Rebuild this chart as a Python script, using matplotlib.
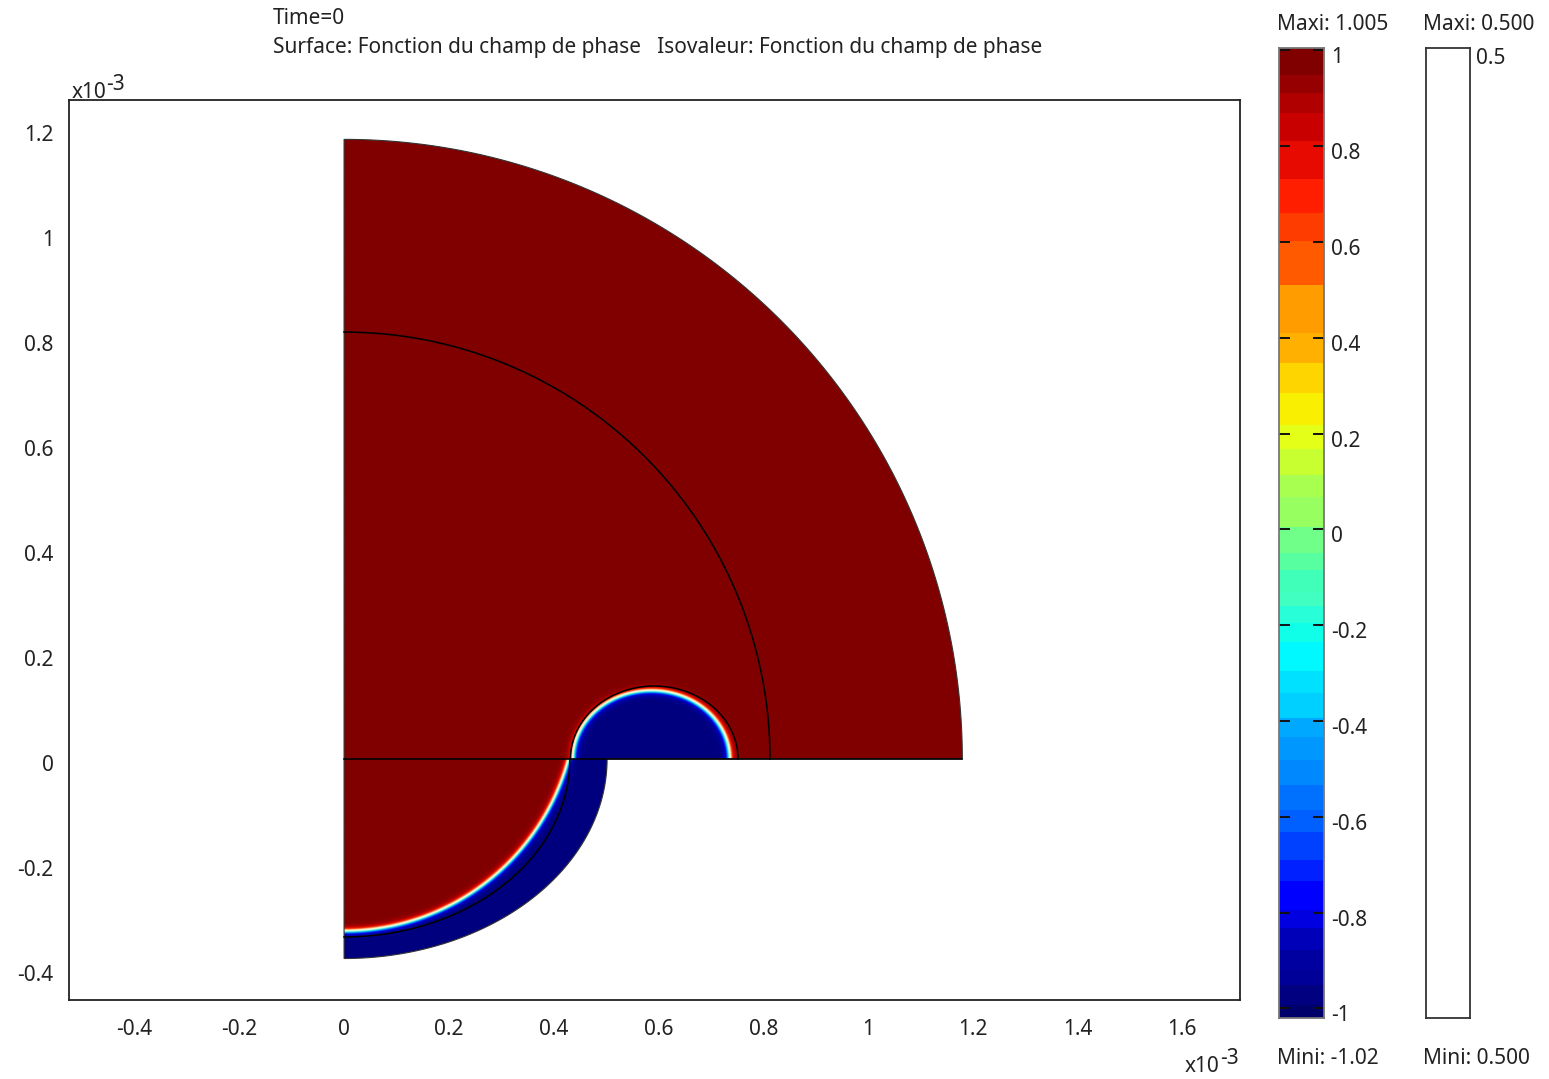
import numpy as np
import matplotlib
matplotlib.use("Agg")
import matplotlib.pyplot as plt
from matplotlib.colors import ListedColormap, BoundaryNorm, LinearSegmentedColormap
from matplotlib.patches import Polygon
from matplotlib.transforms import ScaledTranslation

plt.rcParams['font.family'] = ['Noto Sans', 'DejaVu Sans']

# Geometry (units of 1e-3)
outer_radius = 1.18
middle_radius = 0.813
lower_outer = (0.502, 0.38)
lower_inner = (0.431, 0.339)
lower_interface_center = 0.1166
lower_interface_radius = 0.443
bubble_center = 0.592
bubble_line = (0.160, 0.139)
bubble_interface_center = 0.586
bubble_interface = (0.150, 0.131)
interface_width = 0.007

x_ticks = [-0.4, -0.2, 0, 0.2, 0.4, 0.6, 0.8, 1, 1.2, 1.4, 1.6]
y_ticks = [-0.4, -0.2, 0, 0.2, 0.4, 0.6, 0.8, 1, 1.2]
bar_ticks = [-1, -0.8, -0.6, -0.4, -0.2, 0, 0.2, 0.4, 0.6, 0.8, 1]

band_edges = [-1.02, -.993, -.951, -.920, -.878, -.832, -.795, -.734, -.690, -.632, -.586,
              -.533, -.481, -.433, -.394, -.342, -.296, -.235, -.195, -.160, -.131, -.085,
              -.049, .005, .068, .114, .168, .218, .285, .348, .410, .510, .602, .661,
              .732, .811, .869, .911, .949, 1.005]
band_colors = ['#00006a', '#000080', '#000098', '#0000a0', '#0000b8', '#0000e0', '#0000ff',
               '#0020ff', '#0040ff', '#0060ff', '#0070ff', '#0088ff', '#0098ff', '#00a8ff',
               '#00d0ff', '#00e0ff', '#00f8ff', '#10ffe8', '#28ffd8', '#40ffc0', '#40ffb8',
               '#58ffa0', '#70ff88', '#98ff60', '#a8ff50', '#c8ff30', '#e4ff18', '#f8f000',
               '#ffd500', '#ffb000', '#ff9c00', '#ff5a00', '#ff3c00', '#ff1e00', '#e60a00',
               '#c80000', '#b00000', '#960000', '#800000']
field_stops = ['#00007f', '#0000e0', '#00a8ff', '#70ffd0', '#fffff0', '#ffd8a0', '#ff3000', '#c80000', '#800000']

W, H = 1549, 1079
fig = plt.figure(figsize=(W / 100, H / 100), dpi=100, facecolor='white')


def axes_px(l, t, r, b):
    return fig.add_axes([l / W, 1 - b / H, (r - l) / W, (b - t) / H])


TXT = '#222222'
FS = 15
LW = 1.15
ax = axes_px(69, 100, 1240, 1000)
ax.set_xlim(-0.525, 1.710)
ax.set_ylim(-0.459, 1.255)

xs = np.linspace(0, outer_radius, 1500)
ys = np.linspace(-lower_outer[1], outer_radius, 1980)
X, Y = np.meshgrid(xs, ys)
d_up = (np.hypot((X - bubble_interface_center) / bubble_interface[0], Y / bubble_interface[1]) - 1) * bubble_interface[1]
d_low = lower_interface_radius - np.hypot(X, Y - lower_interface_center)
phi = np.where(Y >= 0, np.tanh(d_up / interface_width), np.tanh(d_low / interface_width))

field_cmap = LinearSegmentedColormap.from_list('field', field_stops, N=256)
im = ax.imshow(phi, origin='lower', extent=(0, outer_radius, -lower_outer[1], outer_radius),
               cmap=field_cmap, vmin=-1, vmax=1, aspect='auto', interpolation='bilinear', zorder=1)

t_up = np.linspace(0, np.pi / 2, 300)
t_low = np.linspace(0, np.pi / 2, 300)
boundary = np.vstack([
    np.column_stack([outer_radius * np.cos(t_up), outer_radius * np.sin(t_up)]),
    np.column_stack([lower_outer[0] * np.sin(t_low), -lower_outer[1] * np.cos(t_low)]),
])
clip = Polygon(boundary, closed=True, transform=ax.transData, fc='none', ec='#333333', lw=0.8, zorder=2)
ax.add_patch(clip)
im.set_clip_path(clip)

ax.plot(middle_radius * np.cos(t_up), middle_radius * np.sin(t_up), color='black', lw=LW, zorder=3)
ax.plot(lower_inner[0] * np.sin(t_low), -lower_inner[1] * np.cos(t_low), color='black', lw=LW, zorder=3)
t_b = np.linspace(0, np.pi, 300)
ax.plot(bubble_center + bubble_line[0] * np.cos(t_b), bubble_line[1] * np.sin(t_b), color='black', lw=LW, zorder=3)
ax.plot([0, outer_radius], [0, 0], color='black', lw=LW, zorder=3)

ax.set_xticks(x_ticks, [f'{v:g}' for v in x_ticks])
ax.set_yticks(y_ticks, [f'{v:g}' for v in y_ticks])
ax.tick_params(axis='x', length=0, labelsize=FS, labelcolor=TXT, pad=14)
ax.tick_params(axis='y', length=0, labelsize=FS, labelcolor=TXT, pad=11)
off = ScaledTranslation(0, -4 / 100, fig.dpi_scale_trans)
for lab in ax.get_yticklabels():
    lab.set_transform(lab.get_transform() + off)
for s in ax.spines.values():
    s.set_linewidth(1.3)
    s.set_color('#222222')


def ftext(x, y, s, **kw):
    kw.setdefault('fontsize', FS)
    kw.setdefault('color', TXT)
    kw.setdefault('va', 'center')
    fig.text(x / W, 1 - y / H, s, **kw)


ftext(273, 19, 'Time=0')
ftext(273, 48, 'Surface: Fonction du champ de phase   Isovaleur: Fonction du champ de phase')
ftext(72, 92, 'x10')
ftext(106, 84, '-3')
ftext(1185, 1067, 'x10')
ftext(1220, 1059, '-3')

# colour bar of the surface
cax = axes_px(1279, 48, 1324, 1018)
cmap = ListedColormap(band_colors)
norm = BoundaryNorm(band_edges, cmap.N)
mid = np.array(band_edges)
cax.pcolormesh([0, 1], mid, np.array(
    [(mid[i] + mid[i + 1]) / 2 for i in range(len(mid) - 1)])[:, None], cmap=cmap, norm=norm)
cax.set_ylim(-1.02, 1.005)
cax.set_xticks([])
cax.set_yticks(bar_ticks, [f'{v:g}' for v in bar_ticks])
cax.tick_params(axis='y', direction='in', left=True, right=True, labelleft=False, labelright=True,
                length=8, width=1.4, color='#111111', labelsize=FS, labelcolor=TXT, pad=5)
off_bar = ScaledTranslation(0, -5 / 100, fig.dpi_scale_trans)
for lab in cax.get_yticklabels():
    lab.set_transform(lab.get_transform() + off_bar)
for s in cax.spines.values():
    s.set_color('#777777')
    s.set_linewidth(1.3)

# bar of the isoline
iax = axes_px(1426, 48, 1470, 1018)
iax.set_xticks([])
iax.set_yticks([])
for s in iax.spines.values():
    s.set_color('#333333')
    s.set_linewidth(1.3)

ftext(1277, 25, 'Maxi: 1.005')
ftext(1423, 25, 'Maxi: 0.500')
ftext(1476, 59, '0.5')
ftext(1277, 1058, 'Mini: -1.02')
ftext(1423, 1058, 'Mini: 0.500')

fig.savefig('out.png', dpi=100, facecolor='white')
